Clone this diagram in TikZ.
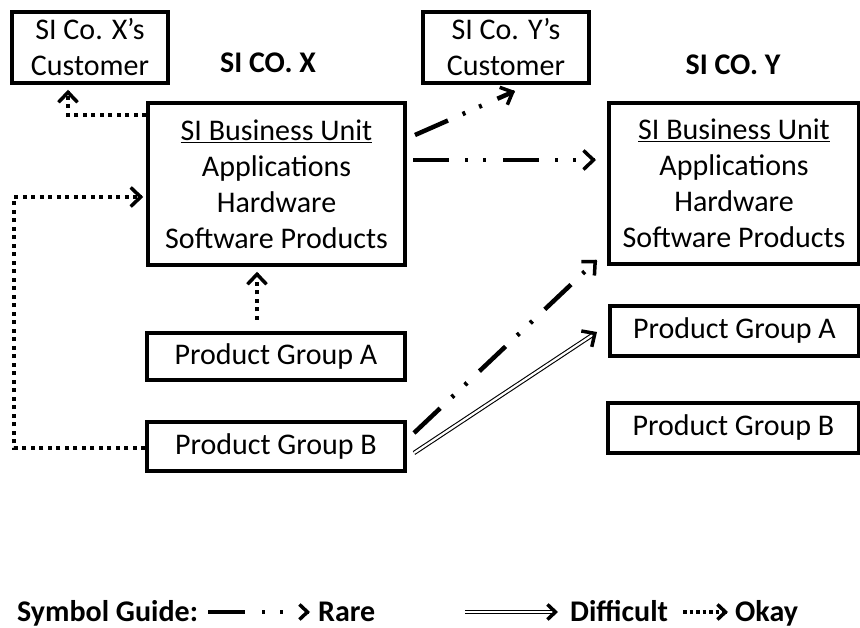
\documentclass[tikz,border=0pt]{standalone}
\usepackage{fontspec}
\setmainfont{Carlito}
\usetikzlibrary{arrows.meta,calc}
\begin{document}
\begin{tikzpicture}[x=1pt,y=-1pt,
  txt/.style={font=\fontsize{30}{36}\selectfont, align=center, inner sep=0pt},
  btxt/.style={font=\fontsize{30}{36}\selectfont\bfseries, inner sep=0pt},
  box/.style={txt, draw, line width=3.5pt, rectangle},
  tipb/.style={solid, line width=3pt, -{Straight Barb[length=10pt,width=19pt,line width=3.5pt]}},
  tips/.style={solid, line width=3pt, -{Straight Barb[length=8pt,width=15pt,line width=3.5pt]}},
  okay/.style={line width=4pt, dash pattern=on 4pt off 4.5pt},
  rare/.style={line width=4.5pt, dash pattern=on 36pt off 16pt on 3pt off 15pt on 3pt off 17pt},
  diff/.style={double, double distance=2.2pt, line width=1.1pt}
]
\useasboundingbox (0,0) rectangle (860,628);

% boxes
\node[box, minimum width=156pt, minimum height=71pt] (custX) at (90,47.5) {SI Co. X’s\\Customer};
\node[box, minimum width=166pt, minimum height=71pt] (custY) at (506,47.5) {SI Co. Y’s\\Customer};
\node[btxt] (labX) at (268,63) {SI CO. X};
\node[btxt] (labY) at (733,65) {SI CO. Y};
\node[box, minimum width=257pt, minimum height=162pt] (buX) at (276.5,184) {\underline{SI Business Unit}\\Applications\\Hardware\\Software Products};
\node[box, minimum width=250pt, minimum height=161pt] (buY) at (734,183.5) {\underline{SI Business Unit}\\Applications\\Hardware\\Software Products};
\node[box, minimum width=258pt, minimum height=47pt] (pgaX) at (276,356.5) {Product Group A};
\node[box, minimum width=258pt, minimum height=49pt] (pgbX) at (276,446.5) {Product Group B};
\node[box, minimum width=249pt, minimum height=50pt] (pgaY) at (734.5,331) {Product Group A};
\node[box, minimum width=251pt, minimum height=50pt] (pgbY) at (733.5,428) {Product Group B};

% okay (dotted) connectors
\coordinate (c1) at (68,115);
\coordinate (c1e) at ($(c1 |- custX.south)+(0,5)$);
\draw[okay,shorten >=3pt] (buX.west |- c1) -- (c1) -- (c1e);
\draw[tipb] ($(c1e)+(0,1)$) -- (c1e);
\coordinate (c2) at (14,448);
\coordinate (c3) at (14,197);
\coordinate (c3e) at ($(buX.west |- c3)+(-3,0)$);
\draw[okay,shorten >=3pt] (pgbX.west |- c2) -- (c2) -- (c3) -- (c3e);
\draw[tipb] ($(c3e)+(-1,0)$) -- (c3e);
\coordinate (c4) at (257,320);
\coordinate (c4e) at ($(c4 |- buX.south)+(0,5)$);
\draw[okay,shorten >=3pt] (c4) -- (c4e);
\draw[tipb] ($(c4e)+(0,1)$) -- (c4e);

% rare (dash-dot) connectors
\coordinate (r1s) at (415,135);
\coordinate (r1e) at (515,91);
\draw[rare,shorten >=3pt] (r1s) -- (r1e);
\draw[tipb] ($(r1e)!1pt!(r1s)$) -- (r1e);
\coordinate (r2s) at (413,160);
\coordinate (r2e) at (596,160);
\draw[rare,shorten >=3pt] (r2s) -- (r2e);
\draw[tipb] ($(r2e)!1pt!(r2s)$) -- (r2e);
\coordinate (r3s) at (414,433);
\coordinate (r3e) at (597,260);
\draw[rare,shorten >=3pt] (r3s) -- (r3e);
\draw[tipb] ($(r3e)!1pt!(r3s)$) -- (r3e);

% difficult (double) connector
\coordinate (d1s) at (414,453);
\coordinate (d1e) at (597,332);
\draw[diff,shorten >=3pt] (d1s) -- (d1e);
\draw[tipb] ($(d1e)!3pt!(d1s)$) -- (d1e);

% legend
\node[btxt, anchor=base west] (sg) at (17,621) {Symbol Guide:};
\coordinate (l1s) at (208,612);
\coordinate (l1e) at (310,612);
\draw[line width=4pt, dash pattern=on 37pt off 17pt on 3pt off 15pt on 3pt off 30pt] (l1s) -- (l1e);
\draw[tips] ($(l1e)+(-1,0)$) -- (l1e);
\node[btxt, anchor=base west] (rare) at (318,621) {Rare};
\coordinate (l2s) at (465,612);
\coordinate (l2e) at (558,612);
\draw[diff,shorten >=3pt] (l2s) -- (l2e);
\draw[tips] ($(l2e)+(-3,0)$) -- (l2e);
\node[btxt, anchor=base west] (difficult) at (570,621) {Difficult};
\coordinate (l3s) at (683,612);
\coordinate (l3e) at (728,612);
\draw[line width=3.5pt, dash pattern=on 3.5pt off 3pt, shorten >=2pt] (l3s) -- (l3e);
\draw[tips] ($(l3e)+(-1,0)$) -- (l3e);
\node[btxt, anchor=base west] (okay) at (735,621) {Okay};
\end{tikzpicture}
\end{document}
